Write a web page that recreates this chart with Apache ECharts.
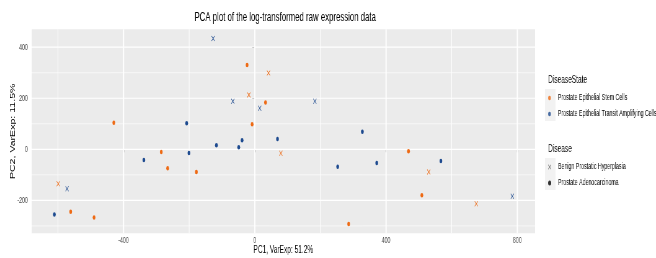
<!DOCTYPE html>
<html>
<head>
<meta charset="utf-8">
<script src="https://cdn.jsdelivr.net/npm/echarts@6/dist/echarts.min.js"></script>
<style>
  html, body { margin: 0; padding: 0; overflow: hidden; background: #fff; }
  /* the original export is squeezed horizontally, so draw wide and squeeze */
  #main { width: 1058px; height: 258px; transform: scaleX(0.62); transform-origin: 0 0; }
</style>
</head>
<body>
<div id="main"></div>
<script>
// [PC1, PC2] per group (color = DiseaseState, shape = Disease)
var stemAdeno = [[-23.5, 330.6], [32.6, 183], [-429.6, 104], [-8.2, 98], [-285, -10.5], [-265.6, -74.7],
  [-178, -89], [-561, -244.7], [-489.8, -266.7], [468.4, -8], [509, -180], [286, -293]]
var stemBenign = [[41.8, 299], [-18, 213], [79.4, -15.7], [-599, -135], [530, -89], [674.8, -213]]
var transitBenign = [[-127, 434], [-67, 188], [15, 161], [183, 188], [-572, -154.5], [784.7, -184]]
var transitAdeno = [[-207.6, 102], [-338, -42], [-200.6, -14.6], [-117, 15.6], [-48.9, 7.8], [-38.8, 35],
  [69.2, 40], [327.8, 69], [252.5, -68.2], [371.5, -53.7], [567, -46], [-610.7, -255]]

var xTicks = [-400, 0, 400, 800]
var yTicks = [-200, 0, 200, 400]
var xMinor = [-600, -200, 200, 600]
var yMinor = [-300, -100, 100, 300]
var xRange = [-680, 854]
var yRange = [-329, 470]

var stateNames = ['Prostate Epithelial Stem Cells', 'Prostate Epithelial Transit Amplifying Cells']
var diseaseNames = ['Benign Prostatic Hyperplasia', 'Prostate Adenocarcinoma']

var ORANGE = '#EE6A14'
var BLUE = '#1D4A8F'
var FONT = 'Liberation Sans, Arial, sans-serif'
var CROSS = 'path://M0,1 L1,0 L5,4 L9,0 L10,1 L6,5 L10,9 L9,10 L5,6 L1,10 L0,9 L4,5 Z'

// one white line series per panel grid line
function gridLine (data, width) {
  return {
    type: 'line', data: data, z: 1, silent: true, symbol: 'none', clip: false,
    lineStyle: { color: '#FFFFFF', width: width }
  }
}
var gridSeries = []
xMinor.forEach(function (v) { gridSeries.push(gridLine([[v, yRange[0]], [v, yRange[1]]], 1.0)) })
yMinor.forEach(function (v) { gridSeries.push(gridLine([[xRange[0], v], [xRange[1], v]], 0.6)) })
xTicks.forEach(function (v) { gridSeries.push(gridLine([[v, yRange[0]], [v, yRange[1]]], 2.0)) })
yTicks.forEach(function (v) { gridSeries.push(gridLine([[xRange[0], v], [xRange[1], v]], 1.2)) })

function pts (name, data, color, symbol, size) {
  return {
    name: name, type: 'scatter', data: data, z: 3,
    symbol: symbol, symbolSize: size,
    itemStyle: { color: color, opacity: 1 },
    silent: true
  }
}

function legendDummy (name, color, symbol) {
  return { name: name, type: 'scatter', data: [], symbol: symbol, itemStyle: { color: color } }
}

var chart = echarts.init(document.getElementById('main'))
window.addEventListener('resize', function () { chart.resize() })

var option = {
  animation: false,
  textStyle: { fontFamily: FONT },
  title: [
    { text: 'PCA plot of the log-transformed raw expression data', left: 455, top: 6, textAlign: 'center',
      textStyle: { fontSize: 12.6, fontWeight: 'normal', color: '#000', fontFamily: FONT } },
    { text: 'DiseaseState', left: 879, top: 70,
      textStyle: { fontSize: 10.6, fontWeight: 'normal', color: '#000', fontFamily: FONT } },
    { text: 'Disease', left: 879, top: 139,
      textStyle: { fontSize: 10.6, fontWeight: 'normal', color: '#000', fontFamily: FONT } }
  ],
  grid: {
    left: 51, top: 29.3, width: 812, height: 204,
    outerBoundsMode: 'none',
    show: true, backgroundColor: '#EBEBEB', borderWidth: 0
  },
  xAxis: {
    type: 'value', min: xRange[0], max: xRange[1],
    name: 'PC1, VarExp: 51.2%', nameLocation: 'middle', nameGap: 11, nameMoveOverlap: false,
    nameTextStyle: { fontSize: 10.6, color: '#000', fontFamily: FONT },
    axisLine: { show: false },
    splitLine: { show: false },
    axisTick: { show: true, length: 3, customValues: xTicks, lineStyle: { color: '#333', width: 1.4 } },
    axisLabel: { customValues: xTicks, fontSize: 8.5, color: '#4D4D4D', margin: 3, fontFamily: FONT }
  },
  yAxis: {
    type: 'value', min: yRange[0], max: yRange[1],
    name: 'PC2, VarExp: 11.5%', nameLocation: 'middle', nameGap: 24, nameRotate: 90, nameMoveOverlap: false,
    nameTextStyle: { fontSize: 10.6, color: '#000', fontFamily: FONT },
    axisLine: { show: false },
    splitLine: { show: false },
    axisTick: { show: true, length: 4, customValues: yTicks, lineStyle: { color: '#333', width: 1 } },
    axisLabel: { customValues: yTicks, fontSize: 8.5, color: '#4D4D4D', margin: 6, fontFamily: FONT }
  },
  legend: [
    { orient: 'vertical', left: 879, top: 85, itemGap: 0, itemWidth: 17, itemHeight: 4.5,
      selectedMode: false, data: [
        { name: stateNames[0], icon: 'circle' },
        { name: stateNames[1], icon: 'circle' }
      ],
      textStyle: { fontSize: 8.5, color: '#000', lineHeight: 16, fontFamily: FONT } },
    { orient: 'vertical', left: 879, top: 154, itemGap: 0, itemWidth: 17, itemHeight: 5,
      selectedMode: false, data: [
        { name: diseaseNames[0], icon: CROSS },
        { name: diseaseNames[1], icon: 'circle' }
      ],
      textStyle: { fontSize: 8.5, color: '#000', lineHeight: 16, fontFamily: FONT } }
  ],
  graphic: [
    { type: 'rect', left: 879, top: 89, shape: { width: 17, height: 32 }, style: { fill: '#F2F2F2' }, z: -1 },
    { type: 'rect', left: 879, top: 158, shape: { width: 17, height: 32 }, style: { fill: '#F2F2F2' }, z: -1 }
  ],
  series: gridSeries.concat([
    pts('stemAdeno', stemAdeno, ORANGE, 'circle', 4.5),
    pts('stemBenign', stemBenign, ORANGE, CROSS, 5.5),
    pts('transitBenign', transitBenign, BLUE, CROSS, 5.5),
    pts('transitAdeno', transitAdeno, BLUE, 'circle', 4.5),
    legendDummy(stateNames[0], ORANGE, 'circle'),
    legendDummy(stateNames[1], BLUE, 'circle'),
    legendDummy(diseaseNames[0], '#444444', CROSS),
    legendDummy(diseaseNames[1], '#000000', 'circle')
  ])
}

chart.setOption(option)
</script>
</body>
</html>
